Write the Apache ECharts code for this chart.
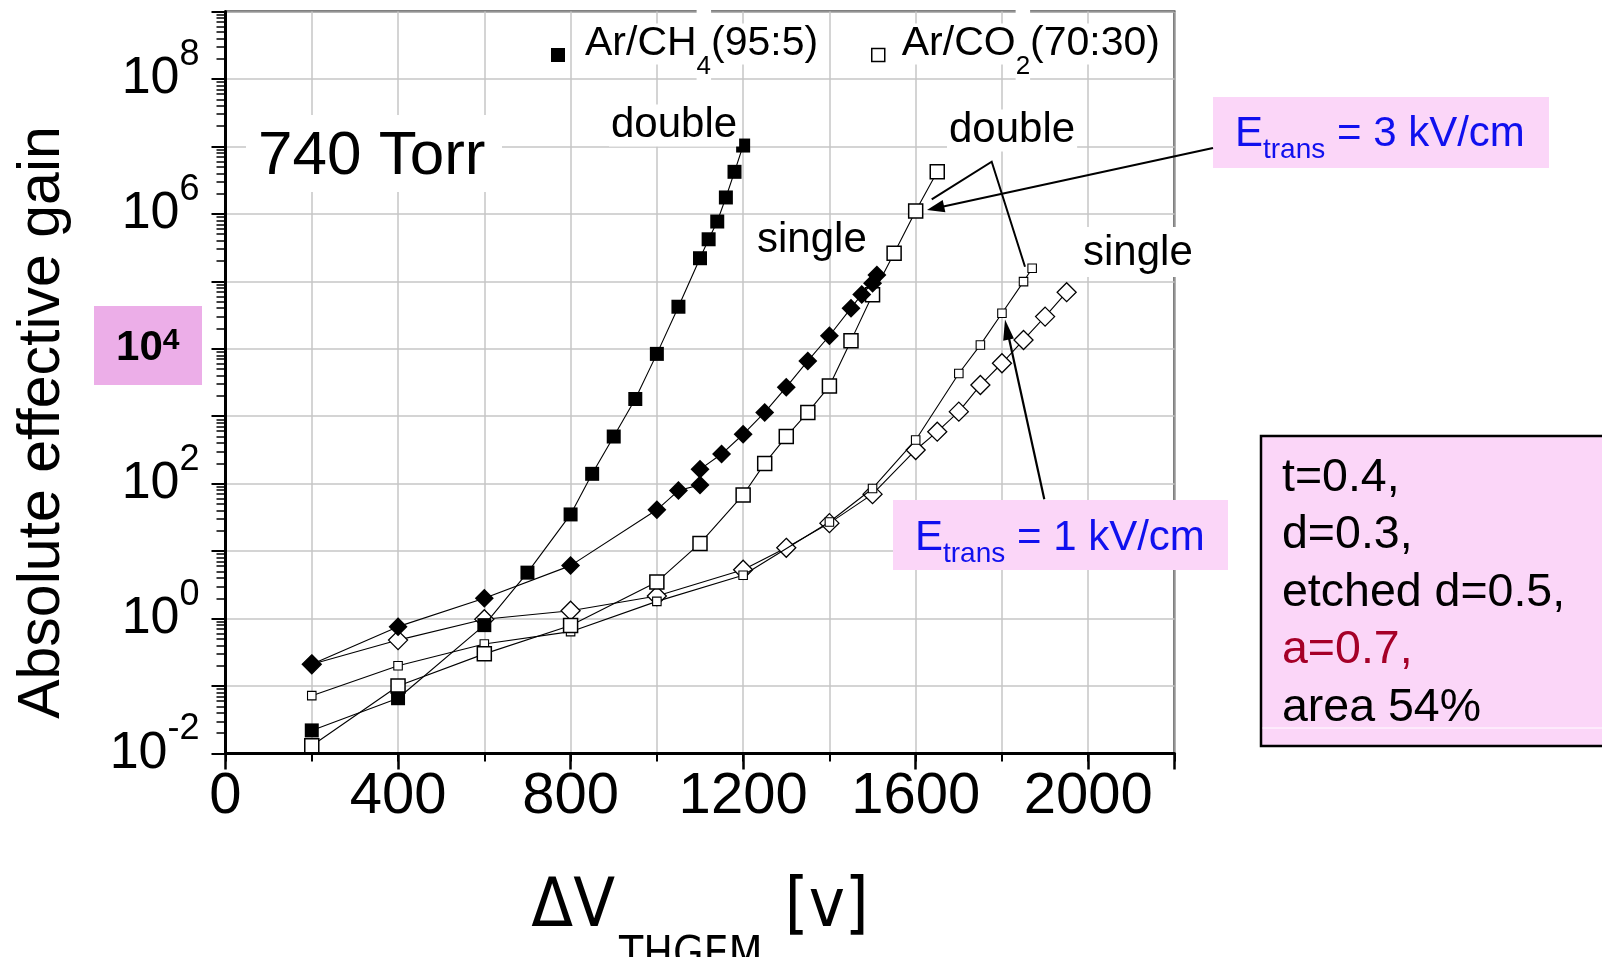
<!DOCTYPE html>
<html><head><meta charset="utf-8">
<script src="https://cdn.jsdelivr.net/npm/echarts@6/dist/echarts.min.js"></script>
<style>html,body{margin:0;padding:0;background:#fff}#c{width:1602px;height:957px}</style>
</head><body><div id="c"></div>
<script>
// ---- data ----
const ch4DoubleV    = [200,400,600,700,800,850,900,950,1000,1050,1100,1120,1140,1160,1180,1200];
const ch4DoubleGain = [0.022,0.066,0.80,4.8,35,140,500,1800,8400,42000,2.2e5,4.2e5,7.7e5,1.75e6,4.2e6,1.03e7];

const ch4SingleV    = [200,400,600,800,1000,1050,1100,1100,1150,1200,1250,1300,1350,1400,1450,1475,1500,1510];
const ch4SingleGain = [0.21,0.76,2.0,6.1,41,79,96,163,275,540,1140,2700,6600,15600,40000,64000,94000,124000];

const co2Double3V    = [200,400,600,800,1000,1100,1200,1250,1300,1350,1400,1450,1500,1550,1600,1650];
const co2Double3Gain = [0.013,0.10,0.30,0.79,3.5,13,68,200,500,1140,2800,13200,63000,2.6e5,1.1e6,4.2e6];

const co2Double1V    = [200,400,600,800,1000,1200,1400,1500,1600,1700,1750,1800,1850,1870];
const co2Double1Gain = [0.072,0.20,0.42,0.64,1.8,4.4,27,85,445,4300,11400,33600,99000,156000];

const co2SingleV    = [200,400,600,800,1000,1200,1300,1400,1500,1600,1650,1700,1750,1800,1850,1900,1950];
const co2SingleGain = [0.21,0.48,0.98,1.31,2.16,5.3,11.2,26,70,316,590,1170,2900,6100,13500,30000,69000];

const legendNames = ['Ar/CH4(95:5)', 'Ar/CO2(70:30)'];
const xTickStep = 400, xMinorStep = 200, xMax = 2200;
const yMin = 0.01, yMax = 1e9;

// ---- styles ----
const NARROW = '"DejaVu Sans Condensed","Liberation Sans Narrow","Arial Narrow",sans-serif';
const SANS = '"Liberation Sans",Arial,Helvetica,sans-serif';
const BLUE = '#1010ee', PINK = '#fbd6f8', PINK2 = '#ecaee8', RED = '#a50028', GRID = '#c6c6c6';

function pairs(xs, ys) { return xs.map((x, i) => [x, ys[i]]); }
const lineSt = { color: '#000', width: 1.1 };

const chart = echarts.init(document.getElementById('c'), null, { renderer: 'canvas' });

const legendRich = {
  a: { fontSize: 41, fontFamily: SANS, color: '#000', backgroundColor: '#fff' },
  s: { fontSize: 26, fontFamily: SANS, color: '#000', backgroundColor: '#fff', padding: [46, 0, 0, 0] }
};

const option = {
  animation: false,
  backgroundColor: '#fff',
  grid: { left: 225.5, top: 11.5, right: 427.5, bottom: 203.5, show: true, containLabel: false,
          outerBoundsMode: 'none',
          borderColor: '#000', borderWidth: 2, backgroundColor: 'transparent' },
  legend: [
    { data: [{ name: legendNames[0], icon: 'rect', itemStyle: { color: '#000', borderWidth: 0 } }],
      left: 551, top: 8, padding: 0, itemWidth: 14, itemHeight: 14, selectedMode: false,
      formatter: () => '{a|Ar/CH}{s|4}{a|(95:5)}',
      textStyle: { padding: [0, 0, 22, 15], rich: legendRich } },
    { data: [{ name: legendNames[1], icon: 'rect', itemStyle: { color: '#fff', borderColor: '#000', borderWidth: 1.5 } }],
      left: 871, top: 8, padding: 0, itemWidth: 13, itemHeight: 13, selectedMode: false,
      formatter: () => '{a|Ar/CO}{s|2}{a|(70:30)}',
      textStyle: { padding: [0, 0, 22, 12], rich: legendRich } }
  ],
  xAxis: [
    { type: 'value', min: 0, max: xMax, interval: xTickStep, position: 'bottom',
      axisLine: { lineStyle: { color: '#000', width: 3 } },
      axisTick: { length: 16, lineStyle: { color: '#000', width: 2.5 } },
      axisLabel: { fontFamily: SANS, fontSize: 58, color: '#000', margin: 14,
                   formatter: v => (v > 2000 ? '' : String(v)) },
      splitLine: { show: false },
      name: '{m|ΔV}{s|THGEM}{v|[v]}', nameLocation: 'middle', nameGap: 85,
      nameTextStyle: { rich: {
        m: { fontFamily: NARROW, fontSize: 68, color: '#000' },
        s: { fontFamily: NARROW, fontSize: 44, color: '#000', padding: [96, 0, 0, 4] },
        v: { fontFamily: NARROW, fontSize: 68, color: '#000', padding: [0, 0, 0, 22] } } } },
    { type: 'value', min: 0, max: xMax, interval: xMinorStep, position: 'bottom',
      axisLine: { show: false },
      axisTick: { length: 8, lineStyle: { color: '#000', width: 2 } },
      axisLabel: { show: false },
      splitLine: { show: true, lineStyle: { color: GRID, width: 1.5 } } }
  ],
  yAxis: {
    type: 'log', logBase: 10, min: yMin, max: yMax, interval: 1, splitNumber: 11,
    axisLine: { lineStyle: { color: '#000', width: 3 } },
    axisTick: { length: 14, lineStyle: { color: '#000', width: 2 } },
    minorTick: { show: true, splitNumber: 9, length: 9, lineStyle: { color: '#000', width: 1.5 } },
    splitLine: { show: true, lineStyle: { color: GRID, width: 1.5 } },
    axisLabel: { margin: 26,
      formatter: function (v) {
        const e = Math.round(Math.log10(v));
        if (e % 2 !== 0) return '';
        if (e === 4) return '{pb|10}{ps|4}';
        return '{b|10}{s|' + e + '}';
      },
      rich: {
        b: { fontFamily: SANS, fontSize: 52, color: '#000' },
        s: { fontFamily: SANS, fontSize: 36, color: '#000', padding: [0, 0, 48, 0] },
        pb: { fontFamily: SANS, fontWeight: 'bold', fontSize: 42, color: '#000' },
        ps: { fontFamily: SANS, fontWeight: 'bold', fontSize: 30, color: '#000', padding: [0, 20, 16, 0] }
      } },
    name: 'Absolute effective gain', nameLocation: 'middle', nameGap: 153,
    nameTextStyle: { fontFamily: SANS, fontSize: 59, color: '#000', padding: [0, 80, 0, 0] }
  },
  series: [
    { name: legendNames[1], type: 'line', data: pairs(co2SingleV, co2SingleGain), symbol: 'diamond', symbolSize: 19,
      itemStyle: { color: '#fff', borderColor: '#000', borderWidth: 1.3 }, lineStyle: lineSt, emphasis: { disabled: true }, z: 2 },
    { name: legendNames[1], type: 'line', data: pairs(co2Double1V, co2Double1Gain), symbol: 'rect', symbolSize: 8.5,
      itemStyle: { color: '#fff', borderColor: '#000', borderWidth: 1.1 }, lineStyle: lineSt, emphasis: { disabled: true }, z: 3 },
    { name: legendNames[1], type: 'line', data: pairs(co2Double3V, co2Double3Gain), symbol: 'rect', symbolSize: 14,
      itemStyle: { color: '#fff', borderColor: '#000', borderWidth: 1.5 }, lineStyle: lineSt, emphasis: { disabled: true }, z: 4 },
    { name: legendNames[0], type: 'line', data: pairs(ch4SingleV, ch4SingleGain), symbol: 'diamond', symbolSize: 19,
      itemStyle: { color: '#000', borderColor: '#000', borderWidth: 0 }, lineStyle: lineSt, emphasis: { disabled: true }, z: 5 },
    { name: legendNames[0], type: 'line', data: pairs(ch4DoubleV, ch4DoubleGain), symbol: 'rect', symbolSize: 14,
      itemStyle: { color: '#000', borderColor: '#000', borderWidth: 0 }, lineStyle: lineSt, emphasis: { disabled: true }, z: 6 }
  ],
  graphic: [
    // pink box behind the 10^4 tick label
    { type: 'rect', z: -1, shape: { x: 94, y: 306, width: 108, height: 79 }, style: { fill: PINK2 } },
    // 740 Torr
    { type: 'rect', z: 100, shape: { x: 246, y: 115, width: 256, height: 77 }, style: { fill: '#fff' } },
    { type: 'text', z: 101, style: { text: '740 Torr', x: 258, y: 157, fontFamily: SANS, fontSize: 62, fill: '#000', align: 'left', verticalAlign: 'middle' } },
    // double / single labels
    { type: 'text', z: 101, style: { text: 'double', x: 609, y: 125.5, fontFamily: SANS, fontSize: 42, fill: '#000', align: 'left', verticalAlign: 'middle', backgroundColor: '#fff', padding: [0, 2, 0, 2] } },
    { type: 'text', z: 101, style: { text: 'double', x: 947, y: 130.5, fontFamily: SANS, fontSize: 42, fill: '#000', align: 'left', verticalAlign: 'middle', backgroundColor: '#fff', padding: [0, 2, 0, 2] } },
    { type: 'text', z: 101, style: { text: 'single', x: 757, y: 240.5, fontFamily: SANS, fontSize: 42, fill: '#000', align: 'left', verticalAlign: 'middle' } },
    { type: 'rect', z: 100, shape: { x: 1080, y: 227, width: 114, height: 50 }, style: { fill: '#fff' } },
    { type: 'text', z: 101, style: { text: 'single', x: 1083, y: 253, fontFamily: SANS, fontSize: 42, fill: '#000', align: 'left', verticalAlign: 'middle' } },
    // lines from 2nd "double"
    { type: 'polyline', z: 101, shape: { points: [[931.7, 199.3], [991.7, 161.7], [1025, 266.7]] }, style: { stroke: '#000', lineWidth: 2, fill: null } },
    // arrow to Etrans = 3
    { type: 'line', z: 101, shape: { x1: 1213, y1: 148, x2: 941, y2: 207 }, style: { stroke: '#000', lineWidth: 2.2 } },
    { type: 'polygon', z: 101, shape: { points: [[927, 210], [945.4, 212.2], [942.7, 199.9]] }, style: { fill: '#000' } },
    // arrow to Etrans = 1
    { type: 'line', z: 101, shape: { x1: 1044.3, y1: 499.3, x2: 1008.5, y2: 336 }, style: { stroke: '#000', lineWidth: 2.2 } },
    { type: 'polygon', z: 101, shape: { points: [[1005, 319.5], [1003.2, 340.7], [1013.9, 338.4]] }, style: { fill: '#000' } },
    // Etrans boxes
    { type: 'rect', z: 100, shape: { x: 1213, y: 97, width: 336, height: 71 }, style: { fill: PINK } },
    { type: 'text', z: 101, style: { text: '{e|E}{t|trans}{e| = 3 kV/cm}', x: 1235, y: 134, align: 'left', verticalAlign: 'middle',
        rich: { e: { fontFamily: SANS, fontSize: 42, fill: BLUE }, t: { fontFamily: SANS, fontSize: 28, fill: BLUE, padding: [32, 0, 0, 0] } } } },
    { type: 'rect', z: 100, shape: { x: 893, y: 500, width: 335, height: 70 }, style: { fill: PINK } },
    { type: 'text', z: 101, style: { text: '{e|E}{t|trans}{e| = 1 kV/cm}', x: 915, y: 538.7, align: 'left', verticalAlign: 'middle',
        rich: { e: { fontFamily: SANS, fontSize: 42, fill: BLUE }, t: { fontFamily: SANS, fontSize: 28, fill: BLUE, padding: [32, 0, 0, 0] } } } },
    // parameter box
    { type: 'rect', z: 100, shape: { x: 1261, y: 436, width: 400, height: 310 }, style: { fill: PINK, stroke: '#000', lineWidth: 2.5 } },
    { type: 'line', z: 100, shape: { x1: 1262.5, y1: 728, x2: 1602, y2: 728 }, style: { stroke: '#fff', lineWidth: 1 } },
    { type: 'text', z: 101, style: { text: '{k|t=0.4,}\n{k|d=0.3,}\n{k|etched d=0.5,}\n{r|a=0.7,}\n{k|area 54%}', x: 1282, y: 449, align: 'left', verticalAlign: 'top',
        rich: { k: { fontFamily: SANS, fontSize: 46.5, fill: '#000', lineHeight: 57.5 }, r: { fontFamily: SANS, fontSize: 46.5, fill: RED, lineHeight: 57.5 } } } }
  ]
};
chart.setOption(option);
</script></body></html>
